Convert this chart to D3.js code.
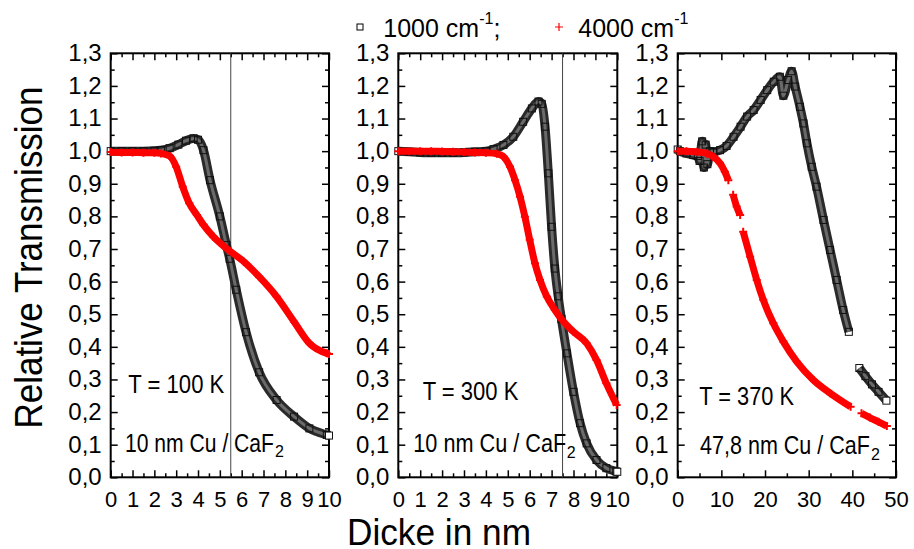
<!DOCTYPE html>
<html><head><meta charset="utf-8">
<script src="https://cdn.jsdelivr.net/npm/d3@7"></script>
<style>body{margin:0;background:#fff}svg{display:block}text{font-family:"Liberation Sans",Arial,sans-serif;fill:#000}</style>
</head><body><svg id="c" width="914" height="549"></svg>
<script>
// ---- data ----
const panelTemps = ["T = 100 K", "T = 300 K", "T = 370 K"];
const panelSamples = ["10 nm Cu / CaF", "10 nm Cu / CaF", "47,8 nm Cu / CaF"];
const xMax = [10, 10, 50];
const xMajorStep = [1, 1, 10];
const xMinorStep = [0.5, 0.5, 5];
const xTickLabels = [["0","1","2","3","4","5","6","7","8","9","10"], ["0","1","2","3","4","5","6","7","8","9","10"], ["0","10","20","30","40","50"]];
const yTickLabels = ["0,0","0,1","0,2","0,3","0,4","0,5","0,6","0,7","0,8","0,9","1,0","1,1","1,2","1,3"];
const refLines = [5.5, 7.5, null];
const seriesNames = ["1000 cm", "4000 cm"];

// T = 100 K
const d100_1000 = [0,0.5,1.0,1.5,2.0,2.3,2.7,3.1,3.45,3.8,4.0,4.25,4.55,5.0,5.3,5.45,5.75,6.2,6.8,7.6,8.4,9.1,9.9,10.0];
const t100_1000 = [1.000,1.000,1.000,1.000,1.001,1.003,1.009,1.020,1.032,1.039,1.035,1.003,0.911,0.800,0.712,0.670,0.575,0.445,0.322,0.237,0.186,0.150,0.130,0.128];
const d100_4000 = [0,0.5,1.0,1.5,2.0,2.3,2.7,3.0,3.3,3.6,3.95,4.25,4.7,5.3,6.1,6.8,7.6,8.4,9.1,9.9,10.0];
const t100_4000 = [0.997,0.996,0.996,0.995,0.995,0.993,0.985,0.952,0.891,0.840,0.804,0.774,0.738,0.702,0.661,0.615,0.554,0.477,0.411,0.380,0.378];
// T = 300 K
const d300_1000 = [0,0.5,1,1.5,2,2.5,3,3.5,4.0,4.35,4.8,5.25,5.7,6.1,6.4,6.55,6.7,6.85,7.0,7.15,7.3,7.45,7.7,8.0,8.3,8.6,9.05,9.5,9.95,10.0];
const t300_1000 = [1.000,0.998,0.996,0.995,0.995,0.995,0.996,0.998,1.000,1.006,1.019,1.044,1.090,1.131,1.152,1.145,1.075,0.932,0.768,0.640,0.555,0.485,0.380,0.262,0.166,0.104,0.053,0.028,0.018,0.017];
const d300_4000 = [0,0.5,1,1.5,2,2.5,3,3.5,4.0,4.5,4.8,5.1,5.33,5.56,5.78,6.0,6.24,6.47,6.78,7.15,7.46,8.0,8.6,9.05,9.5,9.97];
const t300_4000 = [1.000,1.000,1.000,1.000,0.999,0.998,0.997,0.996,0.995,0.992,0.983,0.952,0.911,0.860,0.799,0.728,0.656,0.605,0.554,0.513,0.484,0.446,0.411,0.360,0.288,0.222];
// T = 370 K (null = gap in the measurement)
const d370_1000 = [0,0.5,2,3.6,4.6,5.0,5.6,6.0,6.4,6.8,7.4,8.2,9.7,11.2,12.8,14.4,15.9,17.4,19.0,20.5,22.0,23.4,24.2,25.3,26.1,26.9,28.0,28.8,29.6,30.7,31.8,33.4,34.9,36.4,37.9,39.2,null,41.6,43.0,44.5,46.0,47.8];
const t370_1000 = [1.005,1.000,0.993,0.988,0.985,0.970,1.030,0.950,1.020,0.960,1.000,0.998,1.003,1.016,1.044,1.075,1.106,1.126,1.157,1.187,1.213,1.228,1.170,1.218,1.245,1.198,1.136,1.085,1.024,0.952,0.891,0.789,0.697,0.605,0.513,0.446,null,0.335,0.310,0.285,0.262,0.235];
const d370_4000 = [0,2,4.35,6.6,8.15,9.7,10.8,11.6,null,12.7,13.5,14.3,null,15.0,16.6,18.1,19.6,21.9,24.2,27.3,31.1,34.9,39.6,null,42.1,44.0,46.0,47.9];
const t370_4000 = [1.000,1.000,0.998,0.993,0.983,0.963,0.937,0.911,null,0.866,0.830,0.804,null,0.753,0.676,0.605,0.544,0.472,0.416,0.354,0.298,0.258,0.216,null,0.196,0.183,0.170,0.157];

const blackSeries = [[d100_1000,t100_1000],[d300_1000,t300_1000],[d370_1000,t370_1000]];
const redSeries = [[d100_4000,t100_4000],[d300_4000,t300_4000],[d370_4000,t370_4000]];

// ---- layout ----
const svg = d3.select("#c");
const panelsX = [[110.7,329],[398.3,617.3],[677.7,896]];
const yTop = 53.3, yBot = 477.3;
const y = d3.scaleLinear().domain([0,1.3]).range([yBot,yTop]);

function fit(sel, w){ sel.attr("textLength", w).attr("lengthAdjust","spacingAndGlyphs"); return sel; }

const tempPos = [[128.3,393.3,96],[422.7,400,95.7],[699.3,405,94.7]];
const samplePos = [[125,451.7,149,275,456.7],[413.3,451.7,153,566.7,458.3],[700,454,170,871,460]];

panelsX.forEach((px,i)=>{
  const x = d3.scaleLinear().domain([0,xMax[i]]).range(px);
  const g = svg.append("g");
  const majors = d3.range(0, xMax[i]+1e-9, xMajorStep[i]);
  const minors = d3.range(0, xMax[i]+1e-9, xMinorStep[i]).filter(v=>Math.abs(v/xMajorStep[i]-Math.round(v/xMajorStep[i]))>1e-6);
  const yMaj = d3.range(0,14).map(k=>k/10);
  const yMin = d3.range(0,13).map(k=>k/10+0.05);

  function ax(gen, tr){ const a = g.append("g").attr("transform",tr).call(gen); a.select(".domain").remove(); a.selectAll("line").attr("stroke","#000").attr("stroke-width",1.5); return a; }
  // bottom
  const xb = ax(d3.axisBottom(x).tickValues(majors).tickSize(-7).tickFormat((d,k)=>xTickLabels[i][k]), `translate(0,${yBot})`);
  xb.selectAll("text").attr("y",29.4).attr("dy",null).attr("font-size",22).attr("fill","#000");
  ax(d3.axisBottom(x).tickValues(minors).tickSize(-4).tickFormat(""), `translate(0,${yBot})`);
  // top
  ax(d3.axisTop(x).tickValues(majors).tickSize(-7).tickFormat(""), `translate(0,${yTop})`);
  ax(d3.axisTop(x).tickValues(minors).tickSize(-4).tickFormat(""), `translate(0,${yTop})`);
  // left
  const yl = ax(d3.axisLeft(y).tickValues(yMaj).tickSize(-7).tickPadding(9).tickFormat((d,k)=>yTickLabels[k]), `translate(${px[0]},0)`);
  yl.selectAll("text").attr("font-size",24).attr("dy","0.31em").attr("fill","#000");
  ax(d3.axisLeft(y).tickValues(yMin).tickSize(-4).tickFormat(""), `translate(${px[0]},0)`);
  // right
  ax(d3.axisRight(y).tickValues(yMaj).tickSize(-7).tickFormat(""), `translate(${px[1]},0)`);
  ax(d3.axisRight(y).tickValues(yMin).tickSize(-4).tickFormat(""), `translate(${px[1]},0)`);
  // frame
  g.append("rect").attr("x",px[0]).attr("y",yTop).attr("width",px[1]-px[0]).attr("height",yBot-yTop)
    .attr("fill","none").attr("stroke","#000").attr("stroke-width",2);
  // reference line
  if(refLines[i]!==null){
    g.append("line").attr("x1",x(refLines[i])).attr("x2",x(refLines[i])).attr("y1",yTop).attr("y2",yBot)
      .attr("stroke","#444").attr("stroke-width",1);
  }
  // annotations
  fit(g.append("text").attr("x",tempPos[i][0]).attr("y",tempPos[i][1]).attr("font-size",25).text(panelTemps[i]), tempPos[i][2]);
  fit(g.append("text").attr("x",samplePos[i][0]).attr("y",samplePos[i][1]).attr("font-size",25).text(panelSamples[i]), samplePos[i][2]);
  g.append("text").attr("x",samplePos[i][3]).attr("y",samplePos[i][4]).attr("font-size",16).text("2");

  // series
  const mk = (arr)=>arr[0].map((d,k)=>({d:d, v:arr[1][k]}));
  const line = d3.line().defined(p=>p.d!==null && p.v!==null).x(p=>x(p.d)).y(p=>y(p.v)).curve(d3.curveMonotoneX);
  const bd = mk(blackSeries[i]);
  g.append("path").attr("d",line(bd)).attr("fill","none").attr("stroke","#2a2a2a").attr("stroke-width",9).attr("stroke-linejoin","round");
  g.append("path").attr("d",line(bd)).attr("fill","none").attr("stroke","#6a6a6a").attr("stroke-width",3).attr("stroke-linejoin","round");
  const bp = bd.filter(p=>p.d!==null);
  g.selectAll(".sq").data(bp).enter().append("rect")
    .attr("x",p=>x(p.d)-3.5).attr("y",p=>y(p.v)-3.5).attr("width",7).attr("height",7)
    .attr("fill",(p,k)=>k===bp.length-1?"#fff":"none").attr("stroke","#111").attr("stroke-width",1);
  const rd = mk(redSeries[i]);
  g.append("path").attr("d",line(rd)).attr("fill","none").attr("stroke","#ff0000").attr("stroke-width",7).attr("stroke-linejoin","round");
  const rp = rd.filter(p=>p.d!==null);
  g.selectAll(".pl").data(rp).enter().append("path")
    .attr("d",p=>`M${x(p.d)-4},${y(p.v)}h8M${x(p.d)},${y(p.v)-4}v8`)
    .attr("stroke","#ff0000").attr("stroke-width",2);
});

// legend
svg.append("rect").attr("x",357).attr("y",24).attr("width",6).attr("height",6).attr("fill","none").attr("stroke","#000").attr("stroke-width",1);
const l1 = svg.append("text").attr("x",383.3).attr("y",36.7).attr("font-size",25);
l1.append("tspan").text(seriesNames[0]);
l1.append("tspan").attr("dy",-12.5).attr("font-size",16).text("-1");
l1.append("tspan").attr("dy",12.5).text(";");
svg.append("path").attr("d","M555,27h8M559,23v8").attr("stroke","#ff0000").attr("stroke-width",1.2);
const l2 = svg.append("text").attr("x",578.3).attr("y",36.7).attr("font-size",25);
l2.append("tspan").text(seriesNames[1]);
l2.append("tspan").attr("dy",-12.5).attr("font-size",16).text("-1");

// axis titles
fit(svg.append("text").attr("transform","translate(42,257.5) rotate(-90)").attr("text-anchor","middle").attr("font-size",38).text("Relative Transmission"), 342);
fit(svg.append("text").attr("x",347).attr("y",545).attr("font-size",37).text("Dicke in nm"), 184);
</script></body></html>
